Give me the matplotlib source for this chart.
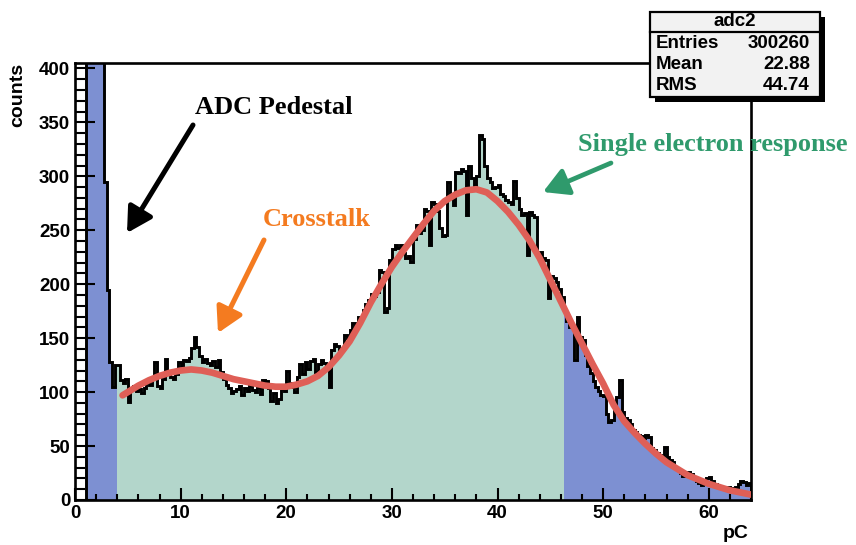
import numpy as np
import matplotlib
matplotlib.use("Agg")
import matplotlib.pyplot as plt
from matplotlib import transforms as mtransforms
from matplotlib.patches import Rectangle
from matplotlib.lines import Line2D
from matplotlib.ticker import MultipleLocator

# ---------------------------------------------------------------- data
bin_width = 0.25
x_range = (0.0, 64.0)

# adc2 charge spectrum, 256 bins of 0.25 pC
counts = [
    0, 0, 0, 0, 1850, 5200, 7400, 6100, 3300, 1400, 560, 295, 195, 128, 105, 125,
    125, 111, 108, 112, 91, 104, 106, 101, 103, 99, 104, 111, 107, 113, 128, 106,
    104, 112, 131, 119, 114, 112, 117, 128, 124, 130, 129, 132, 141, 151, 142, 133,
    128, 131, 127, 125, 129, 123, 130, 119, 112, 107, 104, 99, 101, 103, 106, 97,
    104, 101, 106, 102, 100, 105, 98, 111, 110, 104, 92, 99, 90, 94, 103, 101,
    120, 108, 105, 100, 114, 126, 117, 128, 121, 129, 131, 119, 126, 130, 127, 124,
    105, 139, 145, 143, 138, 141, 153, 150, 158, 164, 162, 170,
    170, 176, 182, 185, 191, 189, 193, 213, 211, 174, 178, 222,
    233, 236, 234, 236, 229, 224, 226, 221, 242, 255, 247, 250,
    270, 268, 236, 276, 274, 268, 252, 245, 246, 295, 284, 273,
    304, 303, 307, 305, 264, 310, 298, 292, 300, 338, 335, 310,
    298, 295, 289, 290, 292, 284, 282, 278, 276, 274, 296, 280,
    270, 264, 266, 227, 267, 264, 262, 227, 230, 224, 222, 187,
    208, 206, 202, 196,
    188, 175, 166, 160, 161, 130, 170, 151, 148, 134, 124, 118,
    110, 105, 101, 97, 96, 80, 72, 74, 88, 95, 111, 82,
    76, 74, 70, 65, 63, 60, 59, 57, 60, 58, 48, 46,
    44, 42, 40, 49, 40, 37, 35, 30, 28, 25, 22, 23,
    26, 24, 20, 18, 16, 14, 15, 20, 21, 18, 15, 14,
    13, 12, 11, 12, 10, 11, 12, 15, 18, 17, 14, 16,
]

# fitted single-electron response model, sampled in pC
fit_x = [4.5, 5, 6, 7, 8, 9, 10, 11, 12, 13, 14, 15, 16, 17, 18, 19, 20,
         21, 22, 23, 24, 25, 26, 27, 28, 29, 30, 31, 32, 33, 34, 35, 36,
         37, 38, 39, 40, 41, 42, 43, 44, 45, 46, 47, 48, 49, 50, 51, 52,
         53, 54, 55, 56, 57, 58, 59, 60, 61, 62, 63, 64]
fit_y = [97, 100, 106, 111, 115, 118, 120, 121, 120, 118, 115, 112, 110, 108,
         106, 105, 105, 107, 110, 115, 123, 134, 147, 164, 183, 200, 216, 230,
         243, 256, 268, 277, 283, 287, 288, 285, 277, 267, 255, 241, 224, 204,
         184, 164, 145, 126, 108, 88, 73, 62, 52, 43, 35, 29, 23, 19, 15, 12,
         9, 7, 5]

# charge window highlighted in the fill
window = (4.0, 46.25)

stats_title = "adc2"
stats_names = ["Entries", "Mean", "RMS"]
stats_values = ["300260", "22.88", "44.74"]

x_ticks = [0, 10, 20, 30, 40, 50, 60]
y_ticks = [0, 50, 100, 150, 200, 250, 300, 350, 400]

# ---------------------------------------------------------------- style
W, H = 856, 545
BLUE = "#7d90d2"
GREEN = "#b3d6cb"
RED = "#df5f57"
ORANGE = "#f47b20"
TEAL = "#2f9a6c"
SANS = "Liberation Sans"
SERIF = "Liberation Serif"

fig = plt.figure(figsize=(W / 100, H / 100), dpi=100)
fig.patch.set_facecolor("white")

# pixel-space transform for the page layout (origin at top-left)
pix = mtransforms.Affine2D().scale(1 / W, -1 / H).translate(0, 1) + fig.transFigure

L, R, T, B = 75, 751, 63, 500
ax = fig.add_axes([L / W, 1 - B / H, (R - L) / W, (B - T) / H])

edges = np.arange(len(counts) + 1) * bin_width
vals = np.asarray(counts, dtype=float)

# whole spectrum in blue, window in green, black outline on top
ax.stairs(vals, edges, fill=True, color=BLUE, lw=0, zorder=1)
lo = int(round(window[0] / bin_width))
hi = int(round(window[1] / bin_width))
ax.stairs(vals[lo:hi], edges[lo:hi + 1], fill=True, color=GREEN, lw=0, zorder=1.1)
ax.stairs(vals, edges, fill=False, color="black", lw=2.1, zorder=1.2)

ax.plot(fit_x, fit_y, color=RED, lw=4.8, solid_capstyle="round", zorder=3)

ax.set_xlim(*x_range)
ax.set_ylim(0, 405)

ax.set_xticks(x_ticks)
ax.set_yticks(y_ticks)
ax.xaxis.set_minor_locator(MultipleLocator(2))
ax.yaxis.set_minor_locator(MultipleLocator(10))
ax.tick_params(axis="x", which="major", direction="in", length=8.6, width=1.5,
               pad=3.5, top=False)
ax.tick_params(axis="x", which="minor", direction="in", length=4.3, width=1.5,
               top=False)
ax.tick_params(axis="y", which="major", direction="in", length=14.4, width=1.5,
               pad=3.5, right=False)
ax.tick_params(axis="y", which="minor", direction="in", length=7.2, width=1.5,
               right=False)
for lab in ax.get_xticklabels() + ax.get_yticklabels():
    lab.set_fontfamily(SANS)
    lab.set_fontweight("bold")
    lab.set_fontsize(13.5)
for sp in ax.spines.values():
    sp.set_linewidth(1.9)

# axis titles at the axis ends
fig.text(18, 63, "counts", transform=pix, rotation=90, ha="center", va="top",
         fontfamily=SANS, fontweight="bold", fontsize=14)
fig.text(749, 533, "pC", transform=pix, ha="right", va="center",
         fontfamily=SANS, fontweight="bold", fontsize=14)

# annotations
def label(x, y, s, color):
    fig.text(x, y, s, transform=pix, ha="left", va="center", color=color,
             fontfamily=SERIF, fontweight="bold", fontsize=19, zorder=5)


def arrow(tail, tip, color, lw):
    ax.annotate("", xy=tip, xytext=tail, xycoords=pix, textcoords=pix,
                arrowprops=dict(arrowstyle="-|>,head_length=0.75,head_width=0.42",
                                color=color, lw=lw, mutation_scale=20,
                                shrinkA=0, shrinkB=0),
                annotation_clip=False, zorder=5)


label(195, 107, "ADC Pedestal", "black")
arrow((193, 125), (127, 233), "black", 3.6)
label(263, 219, "Crosstalk", ORANGE)
arrow((264, 240), (218, 333), ORANGE, 3.6)
label(578, 145, "Single electron response", TEAL)
arrow((611, 163), (543, 192), TEAL, 3.4)

# statistics box with drop shadow
bx0, by0, bx1, by1 = 650, 12, 820, 97
fig.add_artist(Rectangle((bx0 + 5, by1 + 5), bx1 - bx0, -(by1 - by0),
                         transform=pix, facecolor="black", edgecolor="none",
                         zorder=6))
fig.add_artist(Rectangle((bx0, by1), bx1 - bx0, -(by1 - by0), transform=pix,
                         facecolor="#f2f2f2", edgecolor="black", lw=1.6,
                         zorder=7))
fig.add_artist(Line2D([bx0, bx1], [32, 32], transform=pix, color="black",
                      lw=1.6, zorder=8))
fig.text((bx0 + bx1) / 2, 21.5, stats_title, transform=pix, ha="center",
         va="center", fontfamily=SANS, fontweight="bold", fontsize=13.5,
         zorder=9)
for row, (name, value) in enumerate(zip(stats_names, stats_values)):
    y = 43.5 + row * 21
    fig.text(656, y, name, transform=pix, ha="left", va="center",
             fontfamily=SANS, fontweight="bold", fontsize=13.5, zorder=9)
    fig.text(810, y, value, transform=pix, ha="right", va="center",
             fontfamily=SANS, fontweight="bold", fontsize=13.5, zorder=9)

fig.savefig("out.png", dpi=100, facecolor="white")
